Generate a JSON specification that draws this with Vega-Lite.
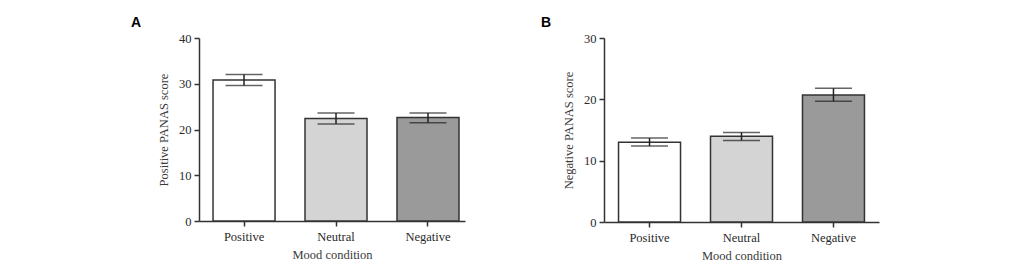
{
  "$schema": "https://vega.github.io/schema/vega-lite/v6.json",
  "padding": {"left": 131, "top": 16, "right": 5, "bottom": 5},
  "background": "white",
  "datasets": {
    "positive": [
      {"condition": "Positive", "mean": 30.8, "lo": 29.6, "hi": 32.0},
      {"condition": "Neutral", "mean": 22.4, "lo": 21.2, "hi": 23.6},
      {"condition": "Negative", "mean": 22.6, "lo": 21.5, "hi": 23.6}
    ],
    "negative": [
      {"condition": "Positive", "mean": 13.0, "lo": 12.4, "hi": 13.7},
      {"condition": "Neutral", "mean": 14.0, "lo": 13.3, "hi": 14.6},
      {"condition": "Negative", "mean": 20.7, "lo": 19.7, "hi": 21.8}
    ]
  },
  "spacing": 76,
  "hconcat": [
    {
      "width": 266,
      "height": 183,
      "data": {"name": "positive"},
      "title": {"text": "A", "anchor": "start", "frame": "group", "dx": -68, "offset": 2},
      "encoding": {
        "x": {
          "field": "condition", "type": "nominal", "sort": ["Positive", "Neutral", "Negative"],
          "scale": {"paddingInner": 0.326, "paddingOuter": 0.109, "align": 0.7},
          "axis": {"title": "Mood condition", "labelAngle": 0}
        }
      },
      "layer": [
        {
          "mark": {"type": "bar", "stroke": "#333333", "strokeWidth": 1.5},
          "encoding": {
            "y": {"field": "mean", "type": "quantitative", "scale": {"domain": [0, 40]},
                  "axis": {"title": "Positive PANAS score", "values": [0, 10, 20, 30, 40]}},
            "color": {"field": "condition", "type": "nominal", "legend": null,
                      "scale": {"domain": ["Positive", "Neutral", "Negative"], "range": ["#ffffff", "#d4d4d4", "#9a9a9a"]}}
          }
        },
        {
          "mark": {"type": "rule", "color": "#222222", "strokeWidth": 1.5},
          "encoding": {"y": {"field": "lo", "type": "quantitative"}, "y2": {"field": "hi"}}
        },
        {
          "mark": {"type": "tick", "orient": "horizontal", "color": "#222222", "size": 37, "thickness": 1.5},
          "encoding": {"y": {"field": "lo", "type": "quantitative"}}
        },
        {
          "mark": {"type": "tick", "orient": "horizontal", "color": "#222222", "size": 37, "thickness": 1.5},
          "encoding": {"y": {"field": "hi", "type": "quantitative"}}
        }
      ]
    },
    {
      "width": 275,
      "height": 184,
      "data": {"name": "negative"},
      "title": {"text": "B", "anchor": "start", "frame": "group", "dx": -63, "offset": 2},
      "encoding": {
        "x": {
          "field": "condition", "type": "nominal", "sort": ["Positive", "Neutral", "Negative"],
          "scale": {"paddingInner": 0.326, "paddingOuter": 0.158},
          "axis": {"title": "Mood condition", "labelAngle": 0}
        }
      },
      "layer": [
        {
          "mark": {"type": "bar", "stroke": "#333333", "strokeWidth": 1.5},
          "encoding": {
            "y": {"field": "mean", "type": "quantitative", "scale": {"domain": [0, 30]},
                  "axis": {"title": "Negative PANAS score", "values": [0, 10, 20, 30]}},
            "color": {"field": "condition", "type": "nominal", "legend": null,
                      "scale": {"domain": ["Positive", "Neutral", "Negative"], "range": ["#ffffff", "#d4d4d4", "#9a9a9a"]}}
          }
        },
        {
          "mark": {"type": "rule", "color": "#222222", "strokeWidth": 1.5},
          "encoding": {"y": {"field": "lo", "type": "quantitative"}, "y2": {"field": "hi"}}
        },
        {
          "mark": {"type": "tick", "orient": "horizontal", "color": "#222222", "size": 37, "thickness": 1.5},
          "encoding": {"y": {"field": "lo", "type": "quantitative"}}
        },
        {
          "mark": {"type": "tick", "orient": "horizontal", "color": "#222222", "size": 37, "thickness": 1.5},
          "encoding": {"y": {"field": "hi", "type": "quantitative"}}
        }
      ]
    }
  ],
  "config": {
    "view": {"stroke": null},
    "title": {"font": "Liberation Sans", "fontSize": 14, "fontWeight": "bold", "color": "#000000"},
    "axis": {
      "grid": false,
      "domainColor": "#333333",
      "domainWidth": 1.5,
      "tickColor": "#333333",
      "tickWidth": 1.5,
      "tickSize": 5,
      "labelFont": "Liberation Serif",
      "labelFontSize": 12.5,
      "labelColor": "#2a2a2a",
      "titleFont": "Liberation Serif",
      "titleFontSize": 12.5,
      "titleFontWeight": "normal",
      "titleColor": "#3a3a3a"
    },
    "axisX": {"labelPadding": 4, "titlePadding": 6, "domainExtent": 0},
    "axisY": {"labelPadding": 3, "titlePadding": 8}
  }
}
